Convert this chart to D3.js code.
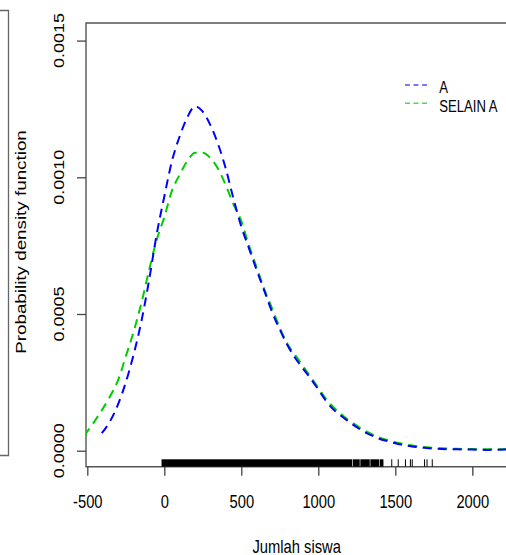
<!DOCTYPE html>
<html>
<head>
<meta charset="utf-8">
<script src="https://cdn.jsdelivr.net/npm/d3@7"></script>
<style>
  html, body { margin: 0; padding: 0; background: #fff; }
  svg { display: block; font-family: "Liberation Sans", Arial, sans-serif; }
</style>
</head>
<body>
<div id="chart"></div>
<script>
// tick values
const xTicks = [-500, 0, 500, 1000, 1500, 2000]
const yTicks = [0, 0.0005, 0.0010, 0.0015]
const yTickLabels = ["0.0000", "0.0005", "0.0010", "0.0015"]

// density of group A (blue)
const xA = [-406, -350, -300, -250, -200, -150, -100, -50, 0, 50, 100, 150, 200, 250, 300, 350, 400, 450,
    500, 550, 600, 650, 700, 750, 800, 850, 900, 950, 1000, 1050, 1100, 1150, 1200, 1250, 1300, 1350,
    1400, 1450, 1500, 1550, 1600, 1700, 1800, 1900, 2000, 2100, 2230]
const densA = [0.000064, 0.00011, 0.00017, 0.00025, 0.00035, 0.00047, 0.00062, 0.00079, 0.00093, 0.00106,
    0.00115, 0.00122, 0.00126, 0.00124, 0.00119, 0.00112, 0.00103, 0.00092, 0.00082, 0.00074, 0.00066,
    0.000584, 0.000507, 0.000443, 0.000386, 0.000339, 0.000301, 0.000264, 0.000224, 0.000182, 0.00015,
    0.000127, 0.000105, 0.000086, 0.000068, 0.000055, 0.000043, 0.000035, 0.000027, 0.000021, 0.000016,
    0.00001, 0.000006, 0.000005, 0.000004, 0.000003, 0.000005]

// density of group SELAIN A (green)
const xSelain = [-520, -450, -400, -350, -300, -250, -200, -150, -100, -50, 0, 50, 100, 150, 200, 250, 300,
    350, 400, 450, 500, 550, 600, 650, 700, 750, 800, 850, 900, 950, 1000, 1050, 1100, 1150, 1200, 1250,
    1300, 1350, 1400, 1450, 1500, 1550, 1600, 1700, 1800, 1900, 2000, 2100, 2230]
const densSelain = [0.000055, 0.00011, 0.000153, 0.000201, 0.000258, 0.000345, 0.000434, 0.000537, 0.000658,
    0.00077, 0.000854, 0.000951, 0.00101, 0.00106, 0.00109, 0.00109, 0.00107, 0.00103, 0.00097, 0.0009,
    0.00084, 0.00075, 0.00067, 0.00059, 0.00052, 0.00045, 0.00039, 0.00035, 0.00031, 0.00027, 0.00023,
    0.00019, 0.000158, 0.000133, 0.00011, 0.000092, 0.000074, 0.00006, 0.000048, 0.000039, 0.000031,
    0.000025, 0.00002, 0.000013, 0.000009, 0.000007, 0.000006, 0.000005, 0.000006]

// rug: solid blocks where the ticks merge, then single ticks
const rugBlocks = [[-18, 1220], [1224, 1269], [1273, 1334], [1338, 1394], [1398, 1423]]
const rugTicks = [1477, 1519, 1566, 1598, 1610, 1690, 1706, 1740]

const legendNames = ["A", "SELAIN A"]
const legendColors = ["#0000ff", "#00cd00"]

const width = 506
const height = 555
const squash = 0.82   // text in the picture is horizontally compressed

const svg = d3.select("#chart").append("svg")
    .attr("width", width)
    .attr("height", height)

const x = d3.scaleLinear().domain([-500, 2000]).range([87.3, 472.3])
const y = d3.scaleLinear().domain([0, 0.0015]).range([450.7, 40.6])

const plotLeft = 86
const plotTop = 23
const plotBottom = 466.7

// stray frame of the neighbouring panel on the left
svg.append("path")
    .attr("d", "M0,10.5H8.5V455.5H0")
    .attr("fill", "none")
    .attr("stroke", "#666")
    .attr("stroke-width", 1.3)

svg.append("clipPath").attr("id", "plotclip")
    .append("rect")
    .attr("x", plotLeft).attr("y", plotTop)
    .attr("width", width - plotLeft).attr("height", plotBottom - plotTop)

// box (right side falls outside the picture)
svg.append("path")
    .attr("d", `M${width + 2},${plotTop}H${plotLeft}V${plotBottom}H${width + 2}`)
    .attr("fill", "none")
    .attr("stroke", "#555")
    .attr("stroke-width", 1.4)

// y axis
const yAxis = svg.append("g")
    .attr("transform", `translate(${plotLeft},0)`)
    .call(d3.axisLeft(y).tickValues(yTicks).tickSize(9).tickSizeOuter(0))
yAxis.select(".domain").remove()
yAxis.selectAll(".tick line").attr("stroke", "#444").attr("stroke-width", 1.3)
yAxis.selectAll(".tick text").remove()

yTicks.forEach((t, i) => {
    svg.append("text")
        .attr("transform", `translate(64,${y(t)}) scale(${squash},1) rotate(-90)`)
        .attr("text-anchor", "middle")
        .attr("font-size", 18)
        .attr("fill", "#000")
        .text(yTickLabels[i])
})

// x axis (R prints a plain hyphen for -500)
const xAxis = svg.append("g")
    .attr("transform", `translate(0,${plotBottom})`)
    .call(d3.axisBottom(x).tickValues(xTicks).tickSize(9).tickSizeOuter(0).tickFormat(d => String(d)))
xAxis.select(".domain").remove()
xAxis.selectAll(".tick line").attr("stroke", "#444").attr("stroke-width", 1.3)
xAxis.selectAll(".tick text")
    .attr("y", 41.6)
    .attr("dy", null)
    .attr("font-size", 18)
    .attr("fill", "#000")
    .attr("transform", `scale(${squash},1)`)
xAxis.attr("font-family", null).attr("font-size", null)

// axis titles
svg.append("text")
    .attr("transform", `translate(296.7,552.5) scale(${squash},1)`)
    .attr("text-anchor", "middle")
    .attr("font-size", 18)
    .text("Jumlah siswa")

svg.append("text")
    .attr("transform", `translate(25.7,242) scale(${squash},1) rotate(-90)`)
    .attr("text-anchor", "middle")
    .attr("font-size", 18.8)
    .text("Probability density function")

// rug
const rugTop = plotBottom - 7.4
svg.append("g").selectAll("rect")
    .data(rugBlocks)
    .join("rect")
    .attr("x", d => x(d[0]))
    .attr("width", d => x(d[1]) - x(d[0]))
    .attr("y", rugTop)
    .attr("height", plotBottom - rugTop)
    .attr("fill", "#000")

svg.append("g").selectAll("line")
    .data(rugTicks)
    .join("line")
    .attr("x1", d => x(d)).attr("x2", d => x(d))
    .attr("y1", rugTop).attr("y2", plotBottom)
    .attr("stroke", "#000")
    .attr("stroke-width", 1)

// density curves
const line = d3.line()
    .x(d => x(d[0]))
    .y(d => y(d[1]))
    .curve(d3.curveMonotoneX)

const curves = svg.append("g").attr("clip-path", "url(#plotclip)")

curves.append("path")
    .datum(d3.zip(xSelain, densSelain))
    .attr("d", line)
    .attr("fill", "none")
    .attr("stroke", legendColors[1])
    .attr("stroke-width", 2)
    .attr("stroke-dasharray", "9,6")

curves.append("path")
    .datum(d3.zip(xA, densA))
    .attr("d", line)
    .attr("fill", "none")
    .attr("stroke", legendColors[0])
    .attr("stroke-width", 2)
    .attr("stroke-dasharray", "9,6")

// legend
const legend = svg.append("g")
legendNames.forEach((name, i) => {
    const ly = 85 + i * 18.3
    legend.append("line")
        .attr("x1", 405).attr("x2", 427)
        .attr("y1", ly).attr("y2", ly)
        .attr("stroke", legendColors[i])
        .attr("stroke-opacity", 0.7)
        .attr("stroke-width", 1.5)
        .attr("stroke-dasharray", "5,3.5")
    legend.append("text")
        .attr("transform", `translate(439.3,${ly + 8.3}) scale(${squash},1)`)
        .attr("font-size", 16)
        .text(name)
})
</script>
</body>
</html>
